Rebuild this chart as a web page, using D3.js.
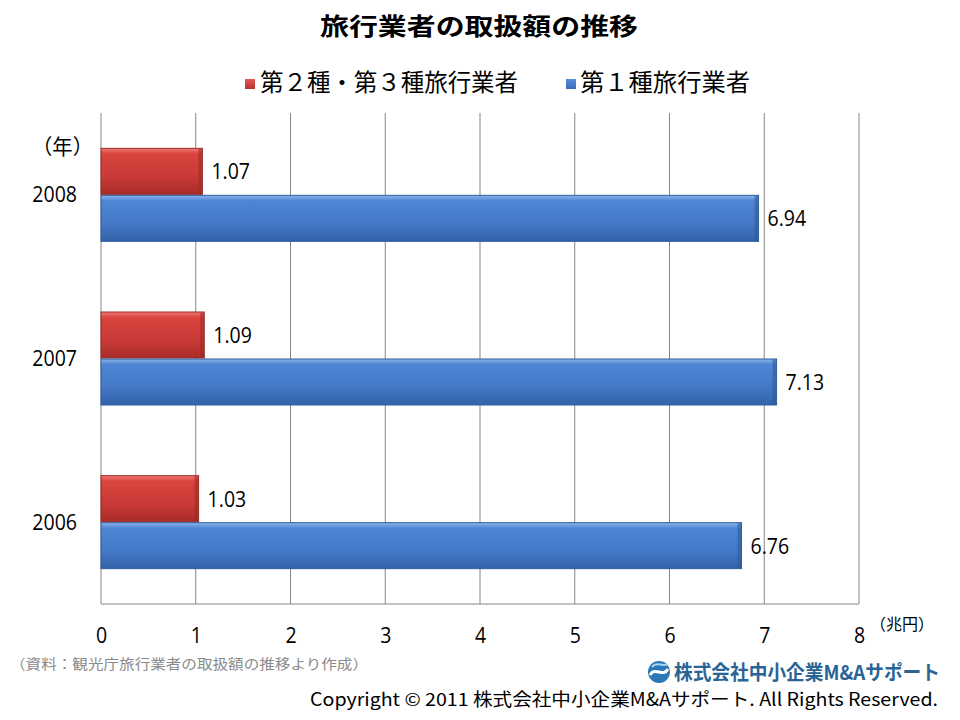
<!DOCTYPE html>
<html><head><meta charset="utf-8">
<script src="https://cdn.jsdelivr.net/npm/d3@7"></script>
<style>body{margin:0;background:#fff}svg{display:block}</style>
</head><body>
<script>
const years = ["2008","2007","2006"];
const seriesNames = ["第２種・第３種旅行業者","第１種旅行業者"];
const type23 = [1.07,1.09,1.03];
const type1 = [6.94,7.13,6.76];
const xTicks = [0,1,2,3,4,5,6,7,8];

const W=960,H=720;
const svg=d3.select("body").append("svg").attr("width",W).attr("height",H);
const jp='"Noto Sans CJK JP","Noto Sans",sans-serif';
const num='"Open Sans","Liberation Sans",sans-serif';
const SX=0.93;

const defs=svg.append("defs");
function grad(id,stops){
  const g=defs.append("linearGradient").attr("id",id).attr("x1",0).attr("y1",0).attr("x2",0).attr("y2",1);
  stops.forEach(s=>g.append("stop").attr("offset",s[0]).attr("stop-color",s[1]));
}
grad("gRed",[[0,"#f07a76"],[0.12,"#d9443f"],[0.6,"#c93a36"],[1,"#a82c28"]]);
grad("gBlue",[[0,"#8db4ec"],[0.12,"#4f86d4"],[0.6,"#4479c8"],[1,"#3362a8"]]);
grad("gRedL",[[0,"#e35a55"],[1,"#b73430"]]);
grad("gBlueL",[[0,"#5a8edb"],[1,"#3b6bb5"]]);

const x=d3.scaleLinear().domain([0,8]).range([101,859]);
const y=d3.scaleBand().domain(years).range([113,604]);
const sub=d3.scaleBand().domain([0,1]).range([0,94]);

// title
svg.append("text").attr("x",320).attr("y",35)
  .attr("font-family",jp).attr("font-weight","bold").attr("font-size",24).attr("fill","#000")
  .attr("textLength",318).attr("lengthAdjust","spacingAndGlyphs").text("旅行業者の取扱額の推移");

// legend
const leg=svg.append("g");
const legItems=[{n:seriesNames[0],c:"url(#gRedL)",x:245,tx:260,tl:258},{n:seriesNames[1],c:"url(#gBlueL)",x:566,tx:580,tl:170}];
legItems.forEach(d=>{
  leg.append("rect").attr("x",d.x).attr("y",79).attr("width",10).attr("height",10).attr("fill",d.c);
  leg.append("text").attr("x",d.tx).attr("y",91).attr("font-family",jp).attr("font-size",23.5).attr("fill","#000")
    .attr("textLength",d.tl).attr("lengthAdjust","spacingAndGlyphs").text(d.n);
});

// gridlines
svg.append("g").selectAll("line").data(xTicks).join("line")
  .attr("x1",d=>x(d)).attr("x2",d=>x(d)).attr("y1",113).attr("y2",604)
  .attr("stroke","#868686").attr("stroke-width",1);
svg.append("line").attr("x1",101).attr("x2",859).attr("y1",604).attr("y2",604).attr("stroke","#868686");

// axis labels
const ax=svg.append("g").attr("transform","translate(0,604)").call(d3.axisBottom(x).tickValues(xTicks).tickSize(0).tickPadding(0).tickFormat(d3.format("d")));
ax.select(".domain").remove();
ax.selectAll("text").attr("dy",null).attr("y",null)
  .attr("transform","translate(0,39) scale("+SX+",1)")
  .attr("font-family",num).attr("font-size",21).attr("fill","#000");

svg.append("text").attr("x",870).attr("y",630).attr("font-family",jp).attr("font-size",16).attr("fill","#000")
  .attr("textLength",64).attr("lengthAdjust","spacingAndGlyphs").text("（兆円）");

// y labels
svg.append("g").selectAll("text").data(years).join("text")
  .attr("transform",d=>"translate(77,"+(y(d)+y.bandwidth()/2+7.5)+") scale("+SX+",1)").attr("text-anchor","end")
  .attr("font-family",num).attr("font-size",21).attr("fill","#000").text(d=>d);
svg.append("text").attr("x",32).attr("y",154).attr("font-family",jp).attr("font-size",21).attr("fill","#000")
  .attr("textLength",61).attr("lengthAdjust","spacingAndGlyphs").text("（年）");

// bars
const bandPad=(y.bandwidth()-94)/2;
const data=[];
years.forEach((yr,i)=>{
  data.push({yr,s:0,v:type23[i]});
  data.push({yr,s:1,v:type1[i]});
});
const bars=svg.append("g");
bars.selectAll("rect.bar").data(data).join("rect").attr("class","bar")
  .attr("x",x(0)).attr("y",d=>y(d.yr)+bandPad+sub(d.s)+0.5)
  .attr("width",d=>x(d.v)-x(0)).attr("height",sub.bandwidth()-1)
  .attr("fill",d=>d.s===0?"url(#gRed)":"url(#gBlue)")
  .attr("stroke",d=>d.s===0?"#9a2a26":"#2f5c9e").attr("stroke-width",1);
bars.selectAll("rect.bev").data(data).join("rect").attr("class","bev")
  .attr("x",d=>x(d.v)-4).attr("y",d=>y(d.yr)+bandPad+sub(d.s)+1)
  .attr("width",3.5).attr("height",sub.bandwidth()-2)
  .attr("fill",d=>d.s===0?"#9e2b27":"#2f5a98").attr("opacity",0.6);

// value labels
svg.append("g").selectAll("text").data(data).join("text")
  .attr("transform",d=>"translate("+(x(d.v)+9)+","+(y(d.yr)+bandPad+sub(d.s)+sub.bandwidth()/2+8)+") scale("+SX+",1)")
  .attr("font-family",num).attr("font-size",21).attr("fill","#000").text(d=>d3.format(".2f")(d.v));

// footer
svg.append("text").attr("x",10).attr("y",669).attr("font-family",jp).attr("font-size",14).attr("fill","#8a8a8a")
  .attr("textLength",358).attr("lengthAdjust","spacingAndGlyphs").text("（資料：観光庁旅行業者の取扱額の推移より作成）");

// logo
const lg=svg.append("g").attr("transform","translate(659,672)");
lg.append("circle").attr("r",11).attr("fill","#2b78b8");
lg.append("path").attr("d","M-9,3 C-4,-6 4,6 9,-3").attr("stroke","#fff").attr("stroke-width",3).attr("fill","none");
lg.append("path").attr("d","M-7,-5 C-2,-12 6,-4 8,-8").attr("stroke","#a9d3f0").attr("stroke-width",2).attr("fill","none");
svg.append("text").attr("x",674).attr("y",680).attr("font-family",jp).attr("font-weight","bold").attr("font-size",20)
  .attr("fill","#2a6495").attr("textLength",266).attr("lengthAdjust","spacingAndGlyphs").text("株式会社中小企業M&Aサポート");

svg.append("text").attr("x",938).attr("y",706).attr("text-anchor","end").attr("font-family",jp).attr("font-size",18).attr("fill","#000")
  .attr("textLength",628).attr("lengthAdjust","spacingAndGlyphs").text("Copyright © 2011 株式会社中小企業M&Aサポート.  All Rights Reserved.");
</script>
</body></html>
